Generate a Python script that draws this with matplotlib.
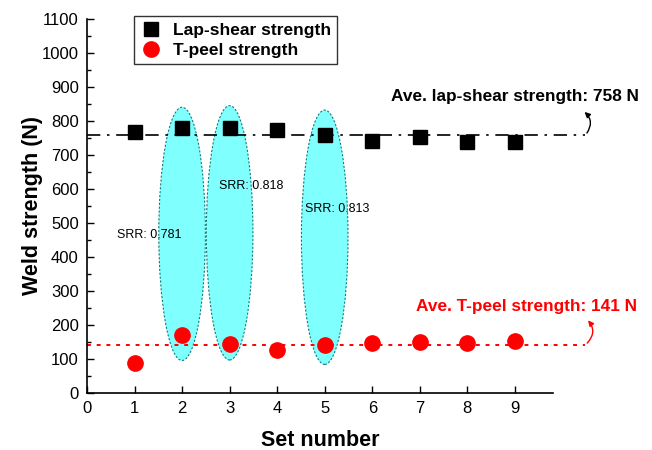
import matplotlib
matplotlib.use('Agg')
import matplotlib.pyplot as plt
from matplotlib.patches import Ellipse
from matplotlib.ticker import MultipleLocator

plt.rcParams['font.family'] = ['Liberation Sans', 'DejaVu Sans']

# data
sets = [1, 2, 3, 4, 5, 6, 7, 8, 9]
lap_shear = [768, 779, 780, 774, 759, 741, 753, 738, 738]
t_peel = [88, 170, 143, 127, 142, 147, 150, 148, 153]
lap_avg = 758
peel_avg = 141

# highlighted sets: (set, centre, height) and SRR labels (x, y, text)
ellipse_sets = [2, 3, 5]
ellipse_centre = [468, 471, 458]
ellipse_height = [745, 748, 748]
srr_x = [0.63, 2.77, 4.58]
srr_y = [465, 609, 541]
srr_text = ['SRR: 0.781', 'SRR: 0.818', 'SRR: 0.813']

fig = plt.figure(figsize=(6.52, 4.5), dpi=100)
ax = fig.add_axes([0.1334, 0.1267, 0.7147, 0.8311])

for xs, yc, h in zip(ellipse_sets, ellipse_centre, ellipse_height):
    ax.add_patch(Ellipse((xs, yc), 0.98, h, facecolor='#80ffff', edgecolor='#108080',
                         linestyle=(0, (2, 1.5)), linewidth=0.8, zorder=1))

for x, y, t in zip(srr_x, srr_y, srr_text):
    ax.text(x, y, t, fontsize=9, va='center', ha='left', zorder=2)

# average lines run past the axis end
ax.plot([0, 10.48], [lap_avg, lap_avg], color='black', linestyle=(0, (8, 4, 1.5, 4)),
        linewidth=1.2, clip_on=False, zorder=2)
ax.plot([0, 10.48], [peel_avg, peel_avg], color='red', linestyle=(0, (2, 3)),
        linewidth=1.4, clip_on=False, zorder=2)

ax.plot(sets, lap_shear, 's', color='black', markersize=10, label='Lap-shear strength', zorder=3)
ax.plot(sets, t_peel, 'o', color='red', markersize=11, label='T-peel strength', zorder=3)

ax.annotate('', xy=(10.42, 832), xytext=(10.48, lap_avg), annotation_clip=False,
            arrowprops=dict(arrowstyle='-|>', color='black', lw=1, mutation_scale=8,
                            connectionstyle='arc3,rad=0.5'))
ax.annotate('', xy=(10.5, 220), xytext=(10.48, peel_avg), annotation_clip=False,
            arrowprops=dict(arrowstyle='-|>', color='red', lw=1, mutation_scale=8,
                            connectionstyle='arc3,rad=0.5'))
ax.text(9.01, 872, 'Ave. lap-shear strength: 758 N', fontsize=12.4, fontweight='bold',
        ha='center', va='center', clip_on=False)
ax.text(9.24, 253, 'Ave. T-peel strength: 141 N', fontsize=12.4, fontweight='bold',
        color='red', ha='center', va='center', clip_on=False)

ax.set_xlim(0, 9.8)
ax.set_ylim(0, 1100)
ax.xaxis.set_major_locator(MultipleLocator(1))
ax.yaxis.set_major_locator(MultipleLocator(100))
ax.yaxis.set_minor_locator(MultipleLocator(50))
ax.tick_params(direction='in', labelsize=12, length=5, width=1, pad=6)
ax.tick_params(which='minor', direction='in', length=3, width=1)
for s in ['top', 'right']:
    ax.spines[s].set_visible(False)
for s in ['left', 'bottom']:
    ax.spines[s].set_linewidth(1.2)

ax.set_xlabel('Set number', fontsize=15.5, fontweight='bold', labelpad=10)
ax.set_ylabel('Weld strength (N)', fontsize=15.5, fontweight='bold')
ax.yaxis.set_label_coords(-0.094, 0.5)

leg = ax.legend(loc='upper left', bbox_to_anchor=(0.093, 1.016),
                prop={'weight': 'bold', 'size': 12.5}, frameon=True, fancybox=False,
                edgecolor='black', borderpad=0.35, handletextpad=0.6, labelspacing=0.3,
                handlelength=1.3, borderaxespad=0.2)
leg.get_frame().set_linewidth(1)

fig.savefig('out.png', dpi=100)
